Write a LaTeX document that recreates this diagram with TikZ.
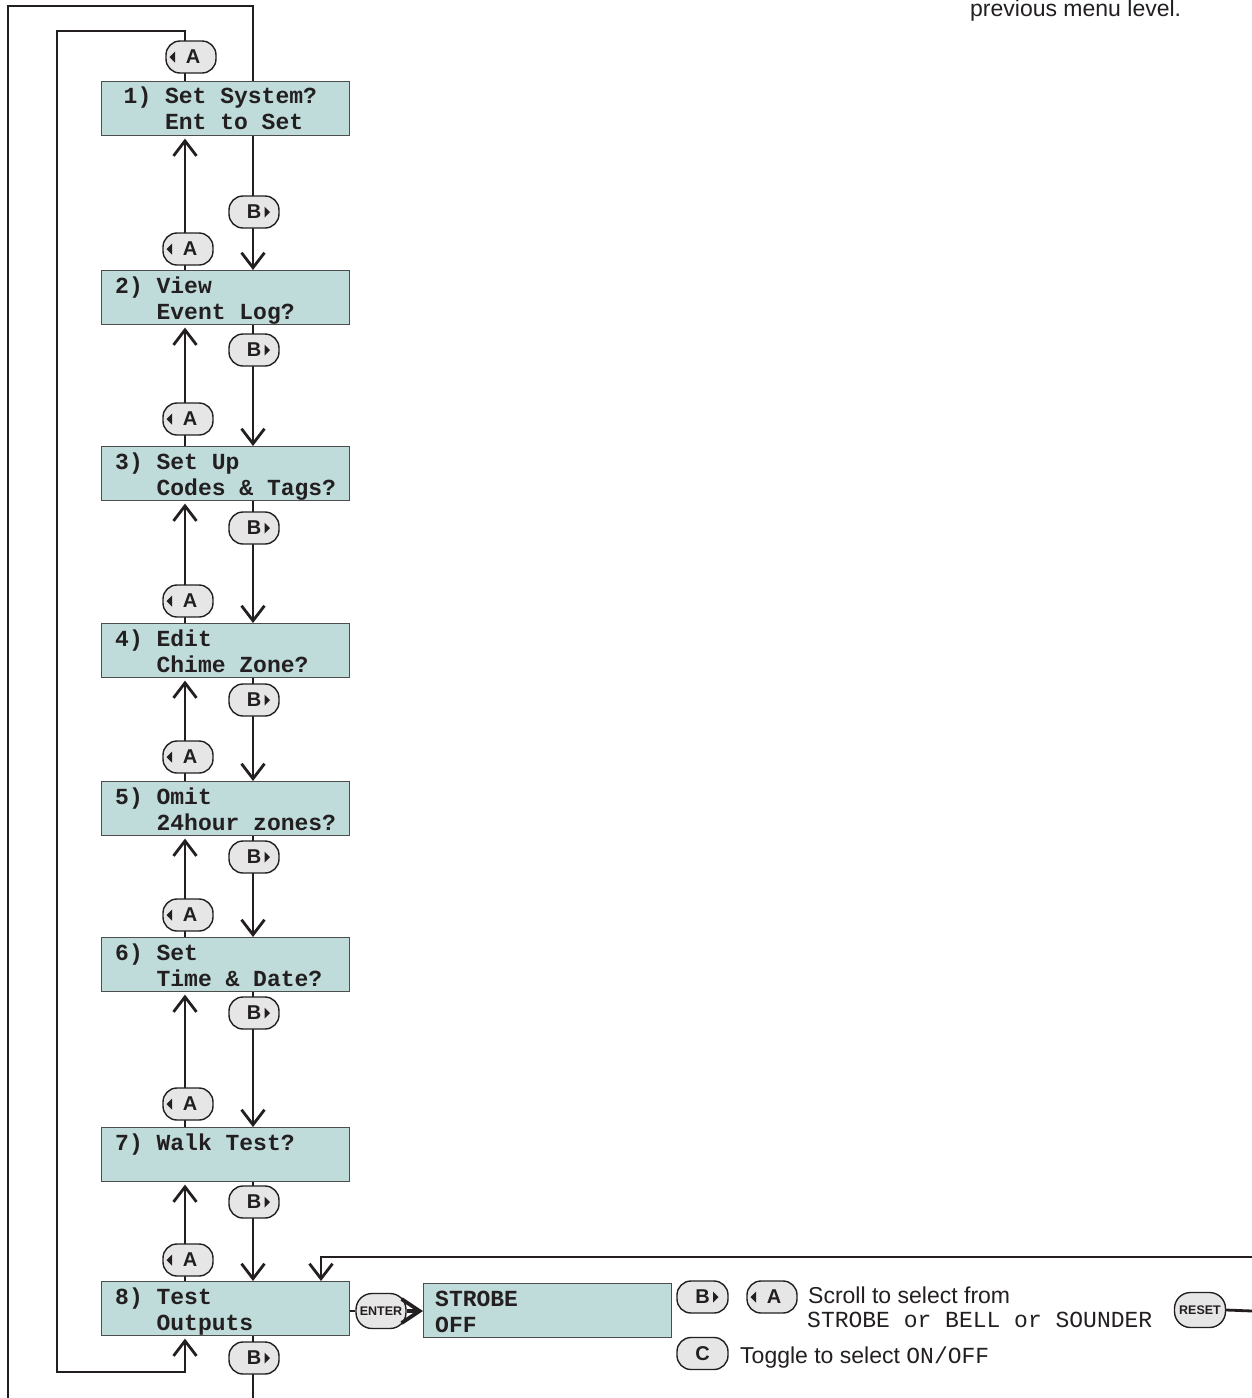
\documentclass[tikz,border=0pt]{standalone}
\usepackage{fontspec}
\setmainfont{Liberation Sans}
\setmonofont{Liberation Mono}
\usetikzlibrary{arrows.meta}
\definecolor{ink}{HTML}{231F20}
\definecolor{boxfill}{HTML}{BFDBDA}
\definecolor{boxline}{HTML}{4D4D4D}
\definecolor{btnfill}{HTML}{E6E6E6}
\newcommand\triL[1]{\fill[ink] ([shift={(-21.5,0)}]#1.center) -- ([shift={(-16,-5.5)}]#1.center) -- ([shift={(-16,5.5)}]#1.center) -- cycle;}
\newcommand\triR[1]{\fill[ink] ([shift={(16,0)}]#1.center) -- ([shift={(10.5,-5.5)}]#1.center) -- ([shift={(10.5,5.5)}]#1.center) -- cycle;}
\begin{document}
\begin{tikzpicture}[x=1pt,y=-1pt,
  lcd/.style={draw=boxline, line width=1.1pt, fill=boxfill, minimum width=248pt, minimum height=54pt, anchor=north west, inner sep=0pt},
  lcdtxt/.style={anchor=base west, inner sep=0pt, font=\ttfamily\bfseries\fontsize{23}{26}\selectfont, text=ink},
  btn/.style={draw=ink, line width=1.4pt, fill=btnfill, rounded corners=14pt, minimum width=50pt, minimum height=32pt, inner sep=0pt, font=\bfseries\fontsize{20}{20}\selectfont, text=ink},
  btnsm/.style={btn, rounded corners=16pt, minimum height=35pt, font=\bfseries\fontsize{12.5}{12.5}\selectfont},
  sans/.style={anchor=base west, inner sep=0pt, font=\fontsize{23}{26}\selectfont, text=ink},
  mono/.style={anchor=base west, inner sep=0pt, font=\ttfamily\fontsize{23}{26}\selectfont, text=ink},
  wire/.style={draw=ink, line width=2.8pt},
  arr/.style={wire, -{Straight Barb[length=15pt, width=23pt]}},
  bigarr/.style={draw=ink, line width=3.8pt, -{Straight Barb[length=18pt, width=24pt]}},
]
\useasboundingbox[fill=white] (0,0) rectangle (1252,1398);

% LCD boxes
\node[lcd] (b1) at (101,81) {};
\node[lcd] (b2) at (101,270) {};
\node[lcd] (b3) at (101,446) {};
\node[lcd] (b4) at (101,623) {};
\node[lcd] (b5) at (101,781) {};
\node[lcd] (b6) at (101,937) {};
\node[lcd] (b7) at (101,1127) {};
\node[lcd] (b8) at (101,1281) {};
\node[lcd] (so) at (423,1283) {};

% texts
\node[lcdtxt] (l1a) at (123.5,103.8) {1) Set System?};
\node[lcdtxt] (l1b) at (164.9,129.8) {Ent to Set};
\node[lcdtxt] (l2a) at (115,293.3) {2) View};
\node[lcdtxt] (l2b) at (156.4,319.3) {Event Log?};
\node[lcdtxt] (l3a) at (115,469.3) {3) Set Up};
\node[lcdtxt] (l3b) at (156.4,495.3) {Codes \& Tags?};
\node[lcdtxt] (l4a) at (115,646.3) {4) Edit};
\node[lcdtxt] (l4b) at (156.4,672.3) {Chime Zone?};
\node[lcdtxt] (l5a) at (115,804.3) {5) Omit};
\node[lcdtxt] (l5b) at (156.4,830.3) {24hour zones?};
\node[lcdtxt] (l6a) at (115,960.3) {6) Set};
\node[lcdtxt] (l6b) at (156.4,986.3) {Time \& Date?};
\node[lcdtxt] (l7a) at (115,1150.3) {7) Walk Test?};
\node[lcdtxt] (l8a) at (115,1304.3) {8) Test};
\node[lcdtxt] (l8b) at (156.4,1330.3) {Outputs};
\node[lcdtxt] (s1) at (435,1306.3) {STROBE};
\node[lcdtxt] (s2) at (435,1332.3) {OFF};

% columns
\coordinate (ax) at (185,0);
\coordinate (bx) at (253,0);
\foreach \i/\j in {1/2,2/3,3/4,4/5,5/6,6/7,7/8}{
  \draw[arr, shorten >=2.5pt] (b\j.north -| ax) -- (b\i.south -| ax);
  \draw[arr] (b\i.south -| bx) -- (b\j.north -| bx);
}

% inner loop (A from menu 1 to menu 8)
\coordinate (il1) at (57,31);
\coordinate (il2) at (57,1372);
\draw[arr, shorten >=2.5pt] (b1.north -| ax) -- (ax |- il1) -- (il1) -- (il2) -- (ax |- il2) -- (b8.south -| ax);

% outer loop (B from menu 8 to menu 1)
\coordinate (ol1) at (8,6);
\coordinate (ol2) at (8,1398);
\draw[wire] (b1.north -| bx) -- (bx |- ol1) -- (ol1) -- (ol2);
\draw[wire] (b8.south -| bx) -- (bx |- ol2);

% ENTER
\node[btnsm] (ent) at (381,1311) {ENTER};
\draw[wire] (b8.east |- ent) -- (ent.west);
\draw[bigarr] (ent.east) -- (so.west |- ent);

% RESET return
\node[btnsm, minimum width=51pt] (rst) at (1200,1310) {RESET};
\coordinate (re) at (1252,1311);
\coordinate (rt) at (1252,1257);
\coordinate (rx) at (321,1257);
\draw[wire] (rst.east) -- (re);
\draw[arr] (rt) -- (rx) -- (rx |- b8.north);

% column buttons
\node[btn] (a0) at (191,57) {\hspace{4pt}A}; \triL{a0}
\foreach \n/\y in {a1/249,a2/419,a3/601,a4/757,a5/915,a6/1104,a7/1260}{
  \node[btn] (\n) at (188,\y) {\hspace{4pt}A}; \triL{\n}
}
\foreach \n/\y in {p1/212,p2/350,p3/528,p4/700,p5/857,p6/1013,p7/1202,p8/1358}{
  \node[btn] (\n) at (254,\y) {B\hspace{6pt}}; \triR{\n}
}

% right side legend
\node[btn, minimum width=51pt] (rb) at (702.5,1297) {B\hspace{6pt}}; \triR{rb}
\node[btn, minimum width=50pt] (ra) at (772,1297) {\hspace{4pt}A}; \triL{ra}
\node[btn, minimum width=51pt] (rc) at (702.5,1353.5) {C};
\node[sans] (t1) at (808,1303) {Scroll to select from};
\node[mono] (t2) at (807,1327) {STROBE or BELL or SOUNDER};
\node[sans] (t3) at (740,1363) {Toggle to select {\ttfamily ON/OFF}};

\node[sans] (prev) at (970,16) {previous menu level.};
\end{tikzpicture}
\end{document}
